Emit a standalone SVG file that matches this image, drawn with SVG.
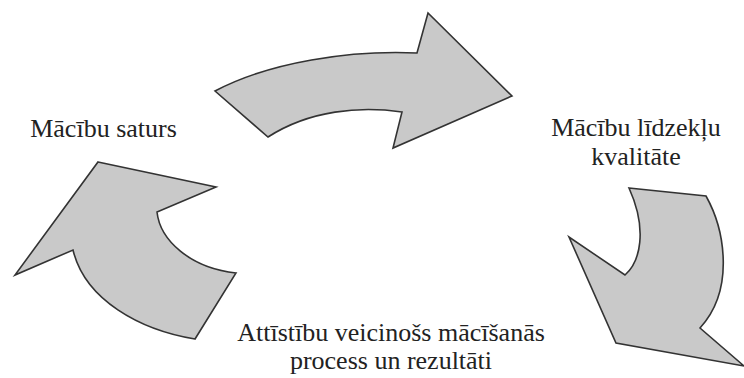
<svg xmlns="http://www.w3.org/2000/svg" width="744" height="378" viewBox="0 0 744 378">
<style>
.arrow{fill:#c9c9c9;stroke:#333;stroke-width:1.6;stroke-linejoin:miter}
.lbl{font-size:26px;fill:#222;text-anchor:middle}
</style>
<rect width="744" height="378" fill="#fff"/>
<g id="connectors">
<path id="arrow-top" class="arrow" d="M215,91 C270,62 350,50 417,53 L428,13 L512,96 L393,148 L402,112 C360,106 310,110 268,137 Z"/>
<path id="arrow-right" class="arrow" d="M629,188 L706,196 C725,230 735,290 700,328 L744,366 L616,343 L569,237 L625,275 C640,262 648,230 629,188 Z"/>
<path id="arrow-left" class="arrow" d="M98,162 L216,187 L157,212 C160,240 190,268 236,273 L195,339 C140,330 85,300 73,250 L15,275 Z"/>
</g>
<g font-family="Liberation Serif, DejaVu Serif, serif">
<g id="node-saturs">
<text class="lbl" x="103.5" y="137">Mācību saturs</text>
</g>
<g id="node-lidzekli">
<text class="lbl" x="636" y="136">Mācību līdzekļu</text>
<text class="lbl" x="636" y="165">kvalitāte</text>
</g>
<g id="node-process">
<text class="lbl" x="391" y="341">Attīstību veicinošs mācīšanās</text>
<text class="lbl" x="391" y="369">process un rezultāti</text>
</g>
</g>
</svg>
